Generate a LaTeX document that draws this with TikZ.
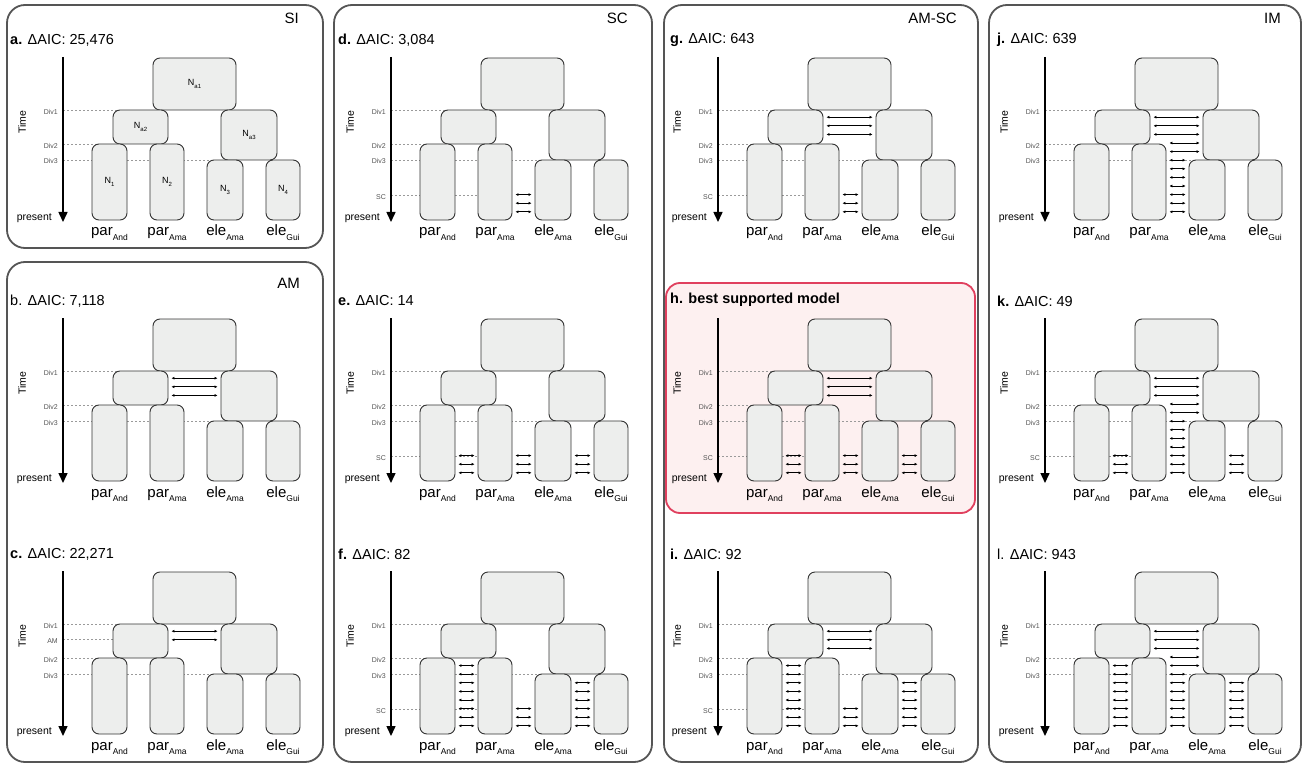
\documentclass[tikz,border=0pt]{standalone}
\usepackage{fontspec}
\setmainfont{Liberation Sans}
\usetikzlibrary{arrows.meta,calc}
\definecolor{popfill}{HTML}{EDEEED}
\definecolor{popline}{HTML}{333333}
\definecolor{panelc}{HTML}{555555}
\definecolor{guide}{HTML}{9A9A9A}
\definecolor{guidetxt}{HTML}{555555}
\definecolor{bestline}{HTML}{E0405E}
\definecolor{bestfill}{HTML}{FDF0F0}
\tikzset{
  panel/.style={draw=panelc, line width=1.8pt, rounded corners=18pt, fill=white},
  best/.style={draw=bestline, line width=1.8pt, rounded corners=14pt, fill=bestfill},
  pop/.style={rectangle, draw=popline, fill=popfill, line width=0.9pt, rounded corners=7pt, inner sep=0pt},
  divline/.style={draw=guide, dash pattern=on 2pt off 2pt, line width=0.7pt},
  divlab/.style={anchor=east, text=guidetxt, font=\fontsize{7}{8}\selectfont, inner sep=0pt},
  ttl/.style={anchor=west, font=\fontsize{14.5}{17}\selectfont, inner sep=0pt},
  model/.style={anchor=east, font=\fontsize{15}{18}\selectfont, inner sep=0pt},
  sp/.style={anchor=base, font=\fontsize{15}{18}\selectfont, inner sep=0pt},
  axlab/.style={font=\fontsize{10.5}{12}\selectfont, inner sep=0pt},
  nlab/.style={font=\fontsize{9}{10}\selectfont, inner sep=0pt},
  timearr/.style={-{Triangle[length=10pt,width=9pt]}, line width=1.5pt},
  mig/.style={{Latex[length=3pt,width=3pt]}-{Latex[length=3pt,width=3pt]}, line width=0.8pt},
}
\newcommand{\popsub}[1]{\raisebox{-0.28em}{\fontsize{8.5}{9}\selectfont #1}}
\newcommand{\nsub}[1]{\raisebox{-0.25em}{\fontsize{6}{7}\selectfont #1}}

% one tree: #1 prefix, #2 x of time axis, #3 row offset
\newcommand{\poptree}[3]{%
  \begin{scope}[shift={(#2,#3)}]
    \coordinate (#1-t0) at (0,57);
    \coordinate (#1-t1) at (0,222);
    \draw[divline] (0,110) -- (60,110);
    \draw[divline] (0,144) -- (60,144);
    \draw[divline] (0,160) -- (150,160);
    \node[divlab] at (-5,111.5) {Div1};
    \node[divlab] at (-5,145.5) {Div2};
    \node[divlab] at (-5,161.5) {Div3};
    \node[pop, minimum width=83pt, minimum height=52pt] (#1-r) at (131.5,84) {};
    \node[pop, minimum width=55pt, minimum height=34pt] (#1-a2) at (77.5,127) {};
    \node[pop, minimum width=56pt, minimum height=50pt] (#1-a3) at (186,135) {};
    \node[pop, minimum width=35pt, minimum height=76pt] (#1-1) at (46.5,182) {};
    \node[pop, minimum width=34pt, minimum height=76pt] (#1-2) at (104,182) {};
    \node[pop, minimum width=36pt, minimum height=60pt] (#1-3) at (162,190) {};
    \node[pop, minimum width=34pt, minimum height=60pt] (#1-4) at (220,190) {};
    \node[sp] (#1-s1) at (#1-1.south |- 0,236) {par\popsub{And}};
    \node[sp] (#1-s2) at (#1-2.south |- 0,236) {par\popsub{Ama}};
    \node[sp] (#1-s3) at (#1-3.south |- 0,236) {ele\popsub{Ama}};
    \node[sp] (#1-s4) at (#1-4.south |- 0,236) {ele\popsub{Gui}};
    \draw[timearr] (#1-t0) -- (#1-t1);
    \node[axlab, rotate=90] (#1-time) at (-41,122) {Time};
    \node[axlab, anchor=east] (#1-pres) at (-11,218) {present};
  \end{scope}}

% secondary contact line: #1 x of time axis, #2 row offset
\newcommand{\scline}[2]{%
  \draw[divline] (#1,#2+195.5) -- (#1+90,#2+195.5);
  \node[divlab] at (#1-5,#2+197) {SC};}

% migration arrows: left node, right node, rows, row offset
\newcommand{\migrate}[4]{%
  \foreach \k in {#3}{%
    \pgfmathsetmacro{\migy}{#4+117.2+8.6*\k}%
    \draw[mig] ($(#1.east |- 0,\migy)+(3,0)$) -- ($(#2.west |- 0,\migy)+(-3,0)$);
  }}

\begin{document}
\begin{tikzpicture}[x=1pt, y=-1pt]
  \useasboundingbox (0,0) rectangle (1306,767);
  % frames
  \draw[panel] (7,5) rectangle (323,248);
  \draw[panel] (7,262) rectangle (323,762);
  \draw[panel] (334,5) rectangle (652,762);
  \draw[panel] (664,5) rectangle (978,762);
  \draw[panel] (989,5) rectangle (1301,762);
  \draw[best] (666,283) rectangle (975,513);
  \node[model] (mSI) at (299,18) {SI};
  \node[model] (mAM) at (300,283) {AM};
  \node[model] (mSC) at (628,18) {SC};
  \node[model] (mAMSC) at (957,18) {AM-SC};
  \node[model] (mIM) at (1281,18) {IM};

  % SI / AM
  \node[ttl] (ta) at (10,40) {\textbf{a.} ΔAIC: 25,476};
  \poptree{a}{63}{0}
  \node[nlab] at (a-r) {N\nsub{a1}};
  \node[nlab] at (a-a2) {N\nsub{a2}};
  \node[nlab] at (a-a3) {N\nsub{a3}};
  \node[nlab] at (a-1) {N\nsub{1}};
  \node[nlab] at (a-2) {N\nsub{2}};
  \node[nlab] at (a-3) {N\nsub{3}};
  \node[nlab] at (a-4) {N\nsub{4}};

  \node[ttl] (tb) at (10,301) {b. ΔAIC: 7,118};
  \poptree{b}{63}{261}
  \migrate{b-a2}{b-a3}{0,1,2}{261}

  \node[ttl] (tc) at (10,554) {\textbf{c.} ΔAIC: 22,271};
  \draw[divline] (63,514+125.8) -- (118,514+125.8);
  \node[divlab] at (58,514+127.3) {AM};
  \poptree{c}{63}{514}
  \migrate{c-a2}{c-a3}{0,1}{514}

  % SC
  \node[ttl] (td) at (338,40) {\textbf{d.} ΔAIC: 3,084};
  \scline{391}{0}
  \poptree{d}{391}{0}
  \migrate{d-2}{d-3}{9,10,11}{0}

  \node[ttl] (te) at (338,301) {\textbf{e.} ΔAIC: 14};
  \scline{391}{261}
  \poptree{e}{391}{261}
  \migrate{e-1}{e-2}{9,10,11}{261}
  \migrate{e-2}{e-3}{9,10,11}{261}
  \migrate{e-3}{e-4}{9,10,11}{261}

  \node[ttl] (tf) at (338,554) {\textbf{f.} ΔAIC: 82};
  \scline{391}{514}
  \poptree{f}{391}{514}
  \migrate{f-1}{f-2}{4,...,11}{514}
  \migrate{f-2}{f-3}{9,10,11}{514}
  \migrate{f-3}{f-4}{6,...,11}{514}

  % AM-SC
  \node[ttl] (tg) at (670,40) {\textbf{g.} ΔAIC: 643};
  \scline{718}{0}
  \poptree{g}{718}{0}
  \migrate{g-a2}{g-a3}{0,1,2}{0}
  \migrate{g-2}{g-3}{9,10,11}{0}

  \node[ttl] (th) at (670,300) {\textbf{h. best supported model}};
  \scline{718}{261}
  \poptree{h}{718}{261}
  \migrate{h-a2}{h-a3}{0,1,2}{261}
  \migrate{h-1}{h-2}{9,10,11}{261}
  \migrate{h-2}{h-3}{9,10,11}{261}
  \migrate{h-3}{h-4}{9,10,11}{261}

  \node[ttl] (ti) at (670,554) {\textbf{i.} ΔAIC: 92};
  \scline{718}{514}
  \poptree{i}{718}{514}
  \migrate{i-a2}{i-a3}{0,1,2}{514}
  \migrate{i-1}{i-2}{4,...,11}{514}
  \migrate{i-2}{i-3}{9,10,11}{514}
  \migrate{i-3}{i-4}{6,...,11}{514}

  % IM
  \node[ttl] (tj) at (997,40) {\textbf{j.} ΔAIC: 639};
  \poptree{j}{1045}{0}
  \migrate{j-a2}{j-a3}{0,1,2}{0}
  \migrate{j-2}{j-a3}{3,4}{0}
  \migrate{j-2}{j-3}{5,...,11}{0}

  \node[ttl] (tk) at (997,301) {\textbf{k.} ΔAIC: 49};
  \scline{1045}{261}
  \poptree{k}{1045}{261}
  \migrate{k-a2}{k-a3}{0,1,2}{261}
  \migrate{k-2}{k-a3}{3,4}{261}
  \migrate{k-2}{k-3}{5,...,11}{261}
  \migrate{k-1}{k-2}{9,10,11}{261}
  \migrate{k-3}{k-4}{9,10,11}{261}

  \node[ttl] (tl) at (997,554) {l. ΔAIC: 943};
  \poptree{l}{1045}{514}
  \migrate{l-a2}{l-a3}{0,1,2}{514}
  \migrate{l-2}{l-a3}{3,4}{514}
  \migrate{l-2}{l-3}{5,...,11}{514}
  \migrate{l-1}{l-2}{4,...,11}{514}
  \migrate{l-3}{l-4}{6,...,11}{514}
\end{tikzpicture}
\end{document}
